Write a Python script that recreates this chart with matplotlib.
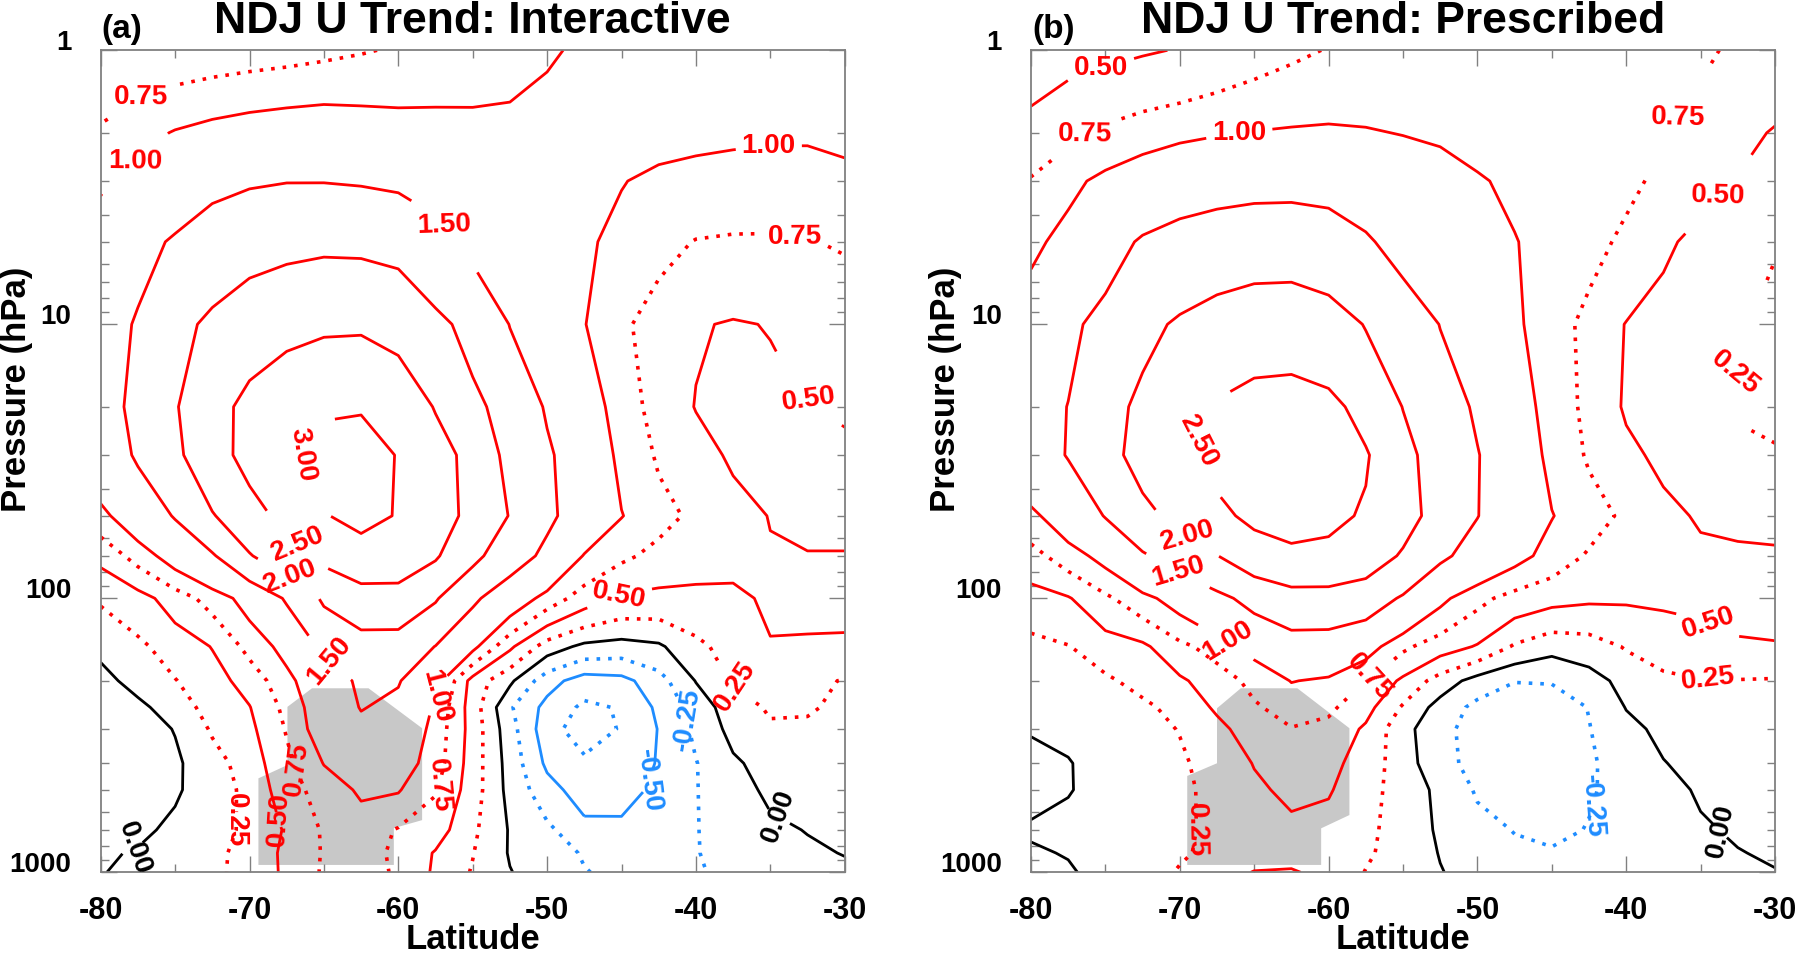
import numpy as np
import matplotlib
matplotlib.use('Agg')
import matplotlib.pyplot as plt
from matplotlib.ticker import NullFormatter

plt.rcParams['font.family'] = ['Liberation Sans', 'DejaVu Sans']
plt.rcParams['font.weight'] = 'bold'

# grid of the zonal wind trend (m/s per decade), latitude x pressure
lats = [-80, -77.5, -75, -72.5, -70, -67.5, -65, -62.5, -60, -57.5, -55,
        -52.5, -50, -47.5, -45, -42.5, -40, -37.5, -35, -32.5, -30]
pres = [1000, 850, 700, 500, 400, 300, 250, 200, 150, 100, 70, 50, 30, 20, 10, 5, 3, 2, 1]

u_interactive = [
    [-0.01, 0.05, 0.12, 0.20, 0.33, 0.55, 0.78, 0.84, 0.72, 0.46, 0.23, 0.01, -0.12, -0.24, -0.30, -0.31, -0.27, -0.20, -0.12, -0.08, -0.05],
    [-0.03, 0.02, 0.10, 0.20, 0.32, 0.56, 0.77, 0.85, 0.70, 0.48, 0.26, -0.02, -0.15, -0.27, -0.33, -0.32, -0.26, -0.17, -0.09, -0.04, 0.01],
    [-0.07, -0.05, 0.05, 0.16, 0.30, 0.53, 0.78, 0.88, 0.73, 0.62, 0.30, -0.02, -0.20, -0.42, -0.44, -0.33, -0.26, -0.14, -0.05, 0.01, 0.04],
    [-0.13, -0.12, -0.03, 0.12, 0.32, 0.64, 0.86, 1.04, 1.02, 0.77, 0.37, -0.08, -0.40, -0.63, -0.60, -0.44, -0.26, -0.10, 0.05, 0.10, 0.10],
    [-0.15, -0.12, -0.04, 0.15, 0.37, 0.69, 1.01, 1.18, 1.15, 0.87, 0.38, -0.10, -0.55, -0.70, -0.67, -0.48, -0.26, -0.04, 0.10, 0.15, 0.13],
    [-0.14, -0.10, 0.01, 0.28, 0.44, 0.77, 1.18, 1.40, 1.30, 0.90, 0.40, -0.15, -0.65, -0.88, -0.73, -0.49, -0.20, 0.08, 0.22, 0.22, 0.18],
    [-0.12, -0.06, 0.12, 0.35, 0.49, 0.82, 1.20, 1.52, 1.40, 0.95, 0.38, -0.22, -0.58, -0.80, -0.73, -0.45, -0.15, 0.14, 0.28, 0.27, 0.21],
    [-0.08, 0.09, 0.24, 0.40, 0.60, 0.92, 1.25, 1.58, 1.53, 1.12, 0.40, 0.05, -0.40, -0.62, -0.58, -0.35, 0.01, 0.27, 0.30, 0.29, 0.24],
    [0.06, 0.20, 0.36, 0.51, 0.83, 1.10, 1.58, 1.82, 1.80, 1.49, 1.08, 0.55, 0.13, -0.06, -0.10, -0.04, 0.19, 0.35, 0.49, 0.47, 0.46],
    [0.28, 0.40, 0.62, 0.85, 1.12, 1.55, 2.07, 2.28, 2.30, 2.04, 1.58, 1.22, 0.90, 0.63, 0.46, 0.43, 0.43, 0.46, 0.53, 0.57, 0.58],
    [0.57, 0.85, 1.15, 1.45, 1.97, 2.30, 2.62, 2.85, 2.80, 2.55, 2.12, 1.72, 1.40, 0.98, 0.80, 0.68, 0.62, 0.56, 0.52, 0.51, 0.51],
    [0.92, 1.22, 1.53, 1.97, 2.30, 2.65, 2.98, 3.10, 2.98, 2.70, 2.38, 1.98, 1.58, 1.30, 1.01, 0.83, 0.70, 0.60, 0.49, 0.44, 0.44],
    [1.25, 1.55, 1.91, 2.30, 2.66, 2.91, 3.12, 3.18, 2.98, 2.72, 2.33, 1.87, 1.56, 1.25, 0.93, 0.72, 0.60, 0.46, 0.40, 0.42, 0.45],
    [1.30, 1.62, 1.97, 2.30, 2.65, 2.85, 2.96, 2.97, 2.85, 2.47, 2.12, 1.80, 1.46, 1.17, 0.87, 0.66, 0.49, 0.42, 0.44, 0.49, 0.53],
    [1.25, 1.55, 1.85, 2.10, 2.27, 2.38, 2.44, 2.45, 2.35, 2.12, 1.85, 1.49, 1.25, 1.01, 0.80, 0.63, 0.52, 0.48, 0.51, 0.56, 0.60],
    [1.12, 1.36, 1.55, 1.72, 1.85, 1.90, 1.93, 1.92, 1.88, 1.65, 1.42, 1.27, 1.13, 1.04, 0.93, 0.82, 0.74, 0.72, 0.72, 0.74, 0.77],
    [0.97, 1.10, 1.25, 1.40, 1.46, 1.49, 1.49, 1.47, 1.43, 1.36, 1.28, 1.20, 1.12, 1.05, 1.01, 0.95, 0.92, 0.91, 0.90, 0.90, 0.91],
    [0.78, 0.90, 1.02, 1.10, 1.16, 1.20, 1.22, 1.18, 1.14, 1.12, 1.10, 1.10, 1.12, 1.12, 1.10, 1.08, 1.06, 1.04, 1.03, 1.03, 1.08],
    [0.58, 0.60, 0.61, 0.63, 0.65, 0.67, 0.70, 0.735, 0.77, 0.81, 0.84, 0.88, 0.97, 1.04, 1.10, 1.13, 1.15, 1.16, 1.17, 1.16, 1.15],
]

u_prescribed = [
    [-0.04, -0.02, 0.06, 0.15, 0.27, 0.40, 0.51, 0.52, 0.44, 0.24, 0.12, 0.01, -0.08, -0.13, -0.15, -0.14, -0.11, -0.08, -0.05, -0.03, -0.01],
    [-0.02, 0.01, 0.08, 0.15, 0.22, 0.31, 0.39, 0.42, 0.38, 0.29, 0.13, -0.01, -0.12, -0.20, -0.23, -0.20, -0.15, -0.10, -0.05, -0.01, 0.03],
    [0.02, 0.05, 0.10, 0.15, 0.21, 0.30, 0.40, 0.45, 0.42, 0.32, 0.12, -0.03, -0.17, -0.26, -0.30, -0.24, -0.17, -0.10, -0.03, 0.03, 0.06],
    [-0.05, -0.01, 0.06, 0.12, 0.19, 0.33, 0.46, 0.55, 0.52, 0.36, 0.12, -0.05, -0.28, -0.36, -0.35, -0.27, -0.18, -0.08, 0.03, 0.08, 0.09],
    [-0.04, -0.01, 0.07, 0.14, 0.21, 0.36, 0.51, 0.58, 0.56, 0.41, 0.10, -0.15, -0.35, -0.42, -0.40, -0.28, -0.15, -0.01, 0.08, 0.11, 0.12],
    [0.01, 0.04, 0.10, 0.17, 0.26, 0.43, 0.63, 0.74, 0.68, 0.46, 0.08, -0.17, -0.36, -0.45, -0.42, -0.26, -0.07, 0.06, 0.11, 0.13, 0.13],
    [0.05, 0.09, 0.14, 0.20, 0.33, 0.54, 0.72, 0.85, 0.80, 0.59, 0.22, -0.10, -0.32, -0.42, -0.40, -0.24, 0.01, 0.09, 0.13, 0.15, 0.15],
    [0.10, 0.16, 0.21, 0.33, 0.46, 0.63, 0.82, 1.01, 0.96, 0.74, 0.45, 0.14, -0.10, -0.24, -0.23, -0.10, 0.08, 0.20, 0.24, 0.24, 0.23],
    [0.18, 0.24, 0.38, 0.45, 0.69, 0.85, 1.10, 1.30, 1.28, 1.14, 0.80, 0.62, 0.48, 0.22, 0.08, 0.13, 0.27, 0.36, 0.42, 0.48, 0.49],
    [0.40, 0.48, 0.70, 0.92, 1.13, 1.38, 1.65, 1.82, 1.83, 1.74, 1.45, 1.07, 0.82, 0.66, 0.58, 0.54, 0.53, 0.54, 0.55, 0.56, 0.56],
    [0.66, 0.88, 1.10, 1.45, 1.70, 1.99, 2.28, 2.42, 2.38, 2.25, 1.95, 1.58, 1.33, 1.10, 0.90, 0.72, 0.63, 0.58, 0.55, 0.54, 0.53],
    [0.93, 1.20, 1.52, 1.86, 2.15, 2.40, 2.60, 2.65, 2.61, 2.45, 2.17, 1.83, 1.51, 1.24, 1.01, 0.86, 0.70, 0.57, 0.47, 0.44, 0.43],
    [1.30, 1.52, 1.83, 2.18, 2.42, 2.62, 2.76, 2.80, 2.72, 2.54, 2.14, 1.78, 1.52, 1.20, 0.93, 0.72, 0.56, 0.44, 0.36, 0.30, 0.27],
    [1.28, 1.51, 1.80, 2.12, 2.35, 2.55, 2.68, 2.70, 2.62, 2.35, 1.99, 1.72, 1.44, 1.12, 0.91, 0.68, 0.47, 0.37, 0.30, 0.23, 0.20],
    [1.20, 1.40, 1.65, 1.88, 2.06, 2.18, 2.26, 2.28, 2.20, 1.98, 1.77, 1.49, 1.28, 1.04, 0.88, 0.67, 0.49, 0.38, 0.31, 0.26, 0.20],
    [0.93, 1.10, 1.32, 1.55, 1.68, 1.77, 1.81, 1.81, 1.74, 1.55, 1.35, 1.20, 1.08, 1.01, 0.92, 0.83, 0.70, 0.55, 0.42, 0.32, 0.26],
    [0.77, 0.93, 1.07, 1.18, 1.27, 1.32, 1.36, 1.37, 1.35, 1.30, 1.20, 1.12, 1.02, 0.96, 0.91, 0.86, 0.80, 0.70, 0.58, 0.48, 0.35],
    [0.58, 0.70, 0.80, 0.88, 0.94, 0.98, 1.01, 1.03, 1.04, 1.02, 0.99, 0.96, 0.93, 0.91, 0.88, 0.84, 0.80, 0.76, 0.67, 0.57, 0.48],
    [0.38, 0.42, 0.45, 0.48, 0.51, 0.58, 0.65, 0.71, 0.76, 0.80, 0.83, 0.86, 0.88, 0.90, 0.90, 0.89, 0.87, 0.83, 0.78, 0.72, 0.66],
]

levels = [-0.75, -0.5, -0.25, 0.0, 0.25, 0.5, 0.75, 1.0, 1.5, 2.0, 2.5, 3.0]

# grey shaded area (lat, hPa)
grey_lat_a = [-65.8, -62.0, -58.4, -58.4, -60.3, -60.3, -69.4, -69.4, -67.45, -67.45]
grey_p_a = [213, 213, 298, 645, 690, 940, 940, 454, 406, 249]
grey_lat_b = [-65.9, -62.1, -58.6, -58.6, -60.5, -60.5, -69.5, -69.5, -67.5, -67.5]
grey_p_b = [213, 213, 298, 618, 691, 940, 940, 445, 400, 252]

# where the contour labels sit: (level, lat, hPa)
labels_a = [(0.75, -77.3, 1.48), (1.0, -77.7, 2.31), (1.0, -35.1, 2.18), (1.5, -56.9, 4.5),
            (0.75, -33.35, 4.5), (0.5, -32.4, 18.4), (3.0, -66.7, 28.2), (2.5, -66.8, 64),
            (2.0, -67.3, 83), (1.5, -64.7, 169), (1.0, -57.6, 228), (0.5, -45.2, 95),
            (0.25, -37.4, 210), (0.75, -66.5, 421), (0.5, -67.8, 643), (0.25, -70.4, 643),
            (0.0, -76.2, 830), (0.75, -57.7, 480), (-0.25, -40.6, 278), (-0.5, -42.9, 465),
            (0.0, -34.35, 625)]
labels_b = [(0.5, -75.3, 1.27), (0.75, -76.4, 2.07), (1.0, -66.0, 1.87), (0.75, -36.5, 1.72),
            (0.5, -33.8, 3.15), (0.25, -32.8, 11.1), (2.5, -68.7, 27.2), (2.0, -69.5, 59),
            (1.5, -70.1, 78.6), (1.0, -66.75, 142), (0.75, -57.3, 193), (0.5, -34.5, 124),
            (0.25, -34.5, 196), (0.25, -68.5, 700), (-0.25, -42.0, 575), (0.0, -34.35, 710)]

xticks = [-80, -70, -60, -50, -40, -30]
xlabels = ['-80', '-70', '-60', '-50', '-40', '-30']


def draw(ax, field, glat, gp, labs):
    ax.fill(glat, gp, color='#c8c8c8', lw=0, zorder=1)
    z = np.array(field)
    for lev in levels:
        if lev < 0:
            col = '#1e8cff'
        elif lev == 0:
            col = 'black'
        else:
            col = 'red'
        cs = ax.contour(lats, pres, z, levels=[lev], colors=[col], linewidths=2.0,
                        linestyles='solid', zorder=2)
        if (lev * 4) % 2 == 1:
            cs.set_linestyle((0, (1, 2.2)))
            cs.set_linewidth(2.6)
        pts = [(la, pp) for lv, la, pp in labs if lv == lev]
        if pts:
            ax.clabel(cs, fmt='%.2f', manual=pts, inline=True, fontsize=20, inline_spacing=6)

    ax.set_yscale('log')
    ax.set_ylim(1000, 1)
    ax.set_xlim(-80, -30)
    ax.set_xticks(xticks, labels=xlabels)
    ax.set_xticks([-75, -65, -55, -45, -35], minor=True)
    ax.set_yticks([1, 10, 100, 1000], labels=['1', '10', '100', '1000'])
    ax.set_yticks([m * d for d in (1, 10, 100) for m in range(2, 10)], minor=True)
    ax.yaxis.set_minor_formatter(NullFormatter())
    ax.tick_params(which='both', direction='in', top=True, right=True, color='#808080', width=1)
    ax.tick_params(which='major', length=11.5)
    ax.tick_params(which='minor', length=5.8)
    ax.tick_params(axis='x', labelsize=22, pad=17)
    ax.tick_params(axis='y', labelsize=20, pad=21)
    for t in ax.get_yticklabels():
        t.set_verticalalignment('baseline')
    for s in ax.spines.values():
        s.set_color('#808080')
        s.set_linewidth(1.3)


fig = plt.figure(figsize=(18, 9.57), dpi=100)
W, H = 1800.0, 957.0
ax1 = fig.add_axes([100.7 / W, 1 - 872.3 / H, 744 / W, 822 / H])
ax2 = fig.add_axes([1031 / W, 1 - 872.3 / H, 744 / W, 822 / H])

draw(ax1, u_interactive, grey_lat_a, grey_p_a, labels_a)
draw(ax2, u_prescribed, grey_lat_b, grey_p_b, labels_b)

for left, tag, title, ylx in [(100.7, '(a)', 'NDJ U Trend: Interactive', 17),
                              (1031, '(b)', 'NDJ U Trend: Prescribed', 946)]:
    cx = (left + 372) / W
    fig.text(cx, 1 - 33 / H, title, fontsize=32, ha='center', va='baseline')
    fig.text((left + 1) / W, 1 - 38 / H, tag, fontsize=24, ha='left', va='baseline')
    fig.text(cx, 1 / H, 'Latitude', fontsize=25, ha='center', va='bottom')
    fig.text(ylx / W, 1 - 389 / H, 'Pressure (hPa)', fontsize=25, rotation=90,
             ha='center', va='center')

fig.savefig('out.png', dpi=100)
